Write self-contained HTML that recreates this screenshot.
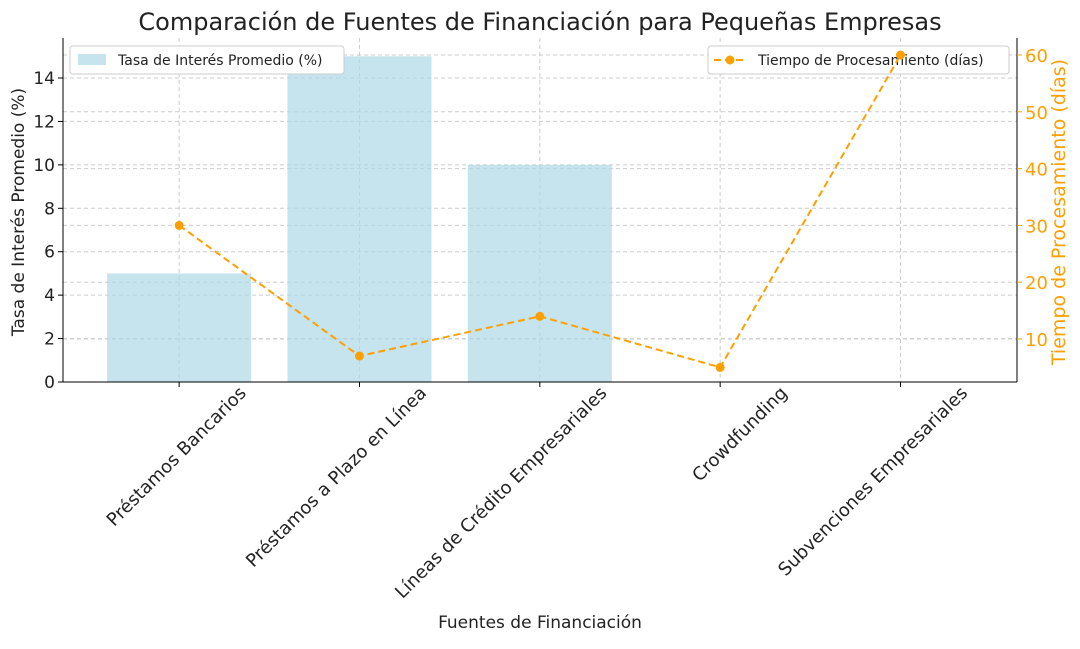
<!DOCTYPE html>
<html><head><meta charset="utf-8"><style>
body{margin:0;background:#fff;font-family:"Liberation Sans","DejaVu Sans",sans-serif}
</style></head><body>
<svg id="c" width="1080" height="644" xmlns="http://www.w3.org/2000/svg" font-family="DejaVu Sans, Liberation Sans, sans-serif"></svg>
<script>
const categories=["Préstamos Bancarios","Préstamos a Plazo en Línea","Líneas de Crédito Empresariales","Crowdfunding","Subvenciones Empresariales"];
const interestRates=[5,15,10,0,0];
const processingDays=[30,7,14,5,60];
const leftTicks=[0,2,4,6,8,10,12,14];
const rightTicks=[10,20,30,40,50,60];
const L=63,R=1017,T=38,B=382;
const xs=i=>L+(i+0.644)*(R-L)/5.29;
const yl=v=>B-v*(B-78)/14;
const yr=v=>55+(60-v)*(339-55)/50;
const svg=document.getElementById('c');const NS="http://www.w3.org/2000/svg";
function mk(t,a,p){const e=document.createElementNS(NS,t);for(const k in a)e.setAttribute(k,a[k]);(p||svg).appendChild(e);return e;}
let e;
e=mk('text',{x:540,y:30,'text-anchor':'middle','font-size':24,fill:'#222'});e.textContent="Comparación de Fuentes de Financiación para Pequeñas Empresas";


leftTicks.forEach(v=>{e=mk('line',{x1:L,x2:R,y1:yl(v),y2:yl(v),stroke:'#ccc','stroke-dasharray':'4,3'});

});
rightTicks.forEach(v=>{e=mk('line',{x1:L,x2:R,y1:yr(v),y2:yr(v),stroke:'#ccc','stroke-dasharray':'4,3'});

});
categories.forEach((c,i)=>{e=mk('line',{x1:xs(i),x2:xs(i),y1:T,y2:B,stroke:'#ccc','stroke-dasharray':'4,3'});

});
interestRates.forEach((v,i)=>{e=mk('rect',{x:xs(i)-72,y:yl(v),width:144,height:B-yl(v),fill:'#add8e6','fill-opacity':0.7});

});
mk('line',{x1:L,x2:L,y1:T,y2:B,stroke:'#000'});
mk('line',{x1:L,x2:R,y1:B,y2:B,stroke:'#000'});
mk('line',{x1:R,x2:R,y1:T,y2:B,stroke:'#000'});
leftTicks.forEach(v=>{mk('line',{x1:L-5,x2:L,y1:yl(v),y2:yl(v),stroke:'#000'});
e=mk('text',{x:L-8,y:yl(v)+6,'text-anchor':'end','font-size':17,fill:'#222'});e.textContent=v;

});
rightTicks.forEach(v=>{mk('line',{x1:R,x2:R+5,y1:yr(v),y2:yr(v),stroke:'#ff9f00'});
e=mk('text',{x:R+8,y:yr(v)+7,'font-size':18,fill:'#ff9f00'});e.textContent=v;

});
categories.forEach((c,i)=>{mk('line',{x1:xs(i),x2:xs(i),y1:B,y2:B+5,stroke:'#000'});
const x=xs(i)+68,y=B+12;
e=mk('text',{x:x,y:y,'text-anchor':'end','font-size':18,fill:'#222',transform:`rotate(-45 ${x} ${y})`});e.textContent=c;

});
e=mk('text',{x:540,y:628,'text-anchor':'middle','font-size':17,fill:'#222'});e.textContent="Fuentes de Financiación";


e=mk('text',{x:24,y:212,'text-anchor':'middle','font-size':17,fill:'#222',transform:'rotate(-90 24 212)'});e.textContent="Tasa de Interés Promedio (%)";


e=mk('text',{x:1065,y:212,'text-anchor':'middle','font-size':19,fill:'#ff9f00',transform:'rotate(-90 1065 212)'});e.textContent="Tiempo de Procesamiento (días)";


e=mk('rect',{x:70,y:46,width:274,height:28,fill:'#fff',stroke:'#ccc',rx:3});


mk('rect',{x:78,y:54,width:28,height:11,fill:'#add8e6','fill-opacity':0.7});
e=mk('text',{x:118,y:65,'font-size':14,fill:'#222'});e.textContent="Tasa de Interés Promedio (%)";
e=mk('rect',{x:708,y:46,width:301,height:28,fill:'#fff',stroke:'#ccc',rx:3});


mk('line',{x1:714,x2:746,y1:60,y2:60,stroke:'#ff9f00','stroke-width':2,'stroke-dasharray':'7,4'});
mk('circle',{cx:730,cy:60,r:4.5,fill:'#ff9f00'});
e=mk('text',{x:758,y:65,'font-size':14,fill:'#222'});e.textContent="Tiempo de Procesamiento (días)";
const pts=processingDays.map((v,i)=>xs(i)+','+yr(v)).join(' ');
e=mk('polyline',{points:pts,fill:'none',stroke:'#ff9f00','stroke-width':2,'stroke-dasharray':'7,4'});


processingDays.forEach((v,i)=>{e=mk('circle',{cx:xs(i),cy:yr(v),r:4.5,fill:'#ff9f00'});

});
</script>
</body></html>
